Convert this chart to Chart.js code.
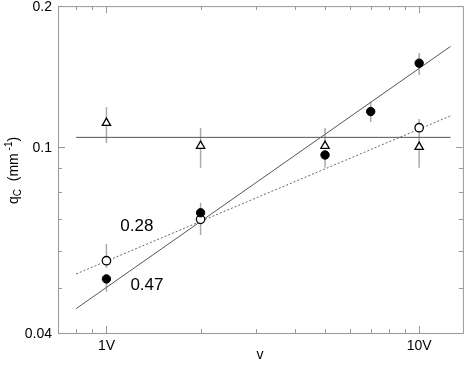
<!DOCTYPE html>
<html>
<head>
<meta charset="utf-8">
<script src="https://cdn.jsdelivr.net/npm/chart.js@4.4.1/dist/chart.umd.min.js"></script>
<style>
  html, body { margin: 0; padding: 0; background: #fff; }
  #wrap { width: 469px; height: 366px; }
</style>
</head>
<body>
<div id="wrap"><canvas id="qcChart" width="469" height="366"></canvas></div>
<script>
// tick values (log axes)
const xTickVals = [0.8, 0.9, 1, 2, 3, 4, 5, 6, 7, 8, 9, 10];
const xMajor = [1, 10];
const yTickVals = [0.04, 0.05, 0.06, 0.07, 0.08, 0.09, 0.1, 0.2];
const yMajor = [0.04, 0.1, 0.2];

// open triangles
const vTri = [1, 2, 5, 10];
const qTri = [0.1125, 0.1005, 0.1005, 0.100];
const triLo = [0.1019, 0.0902, 0.1005, 0.0902];
const triHi = [0.1216, 0.1097, 0.1097, 0.1048];

// filled circles
const vFilled = [1, 2, 5, 7, 10];
const qFilled = [0.0522, 0.0723, 0.0961, 0.119, 0.151];
const filledLo = [0.0490, 0.0723, 0.0902, 0.113, 0.1424];
const filledHi = [0.0522, 0.0759, 0.0961, 0.125, 0.1588];

// open circles
const vOpen = [1, 2, 10];
const qOpen = [0.0571, 0.070, 0.1099];
const openLo = [0.0551, 0.0648, 0.1048];
const openHi = [0.0620, 0.0700, 0.1147];

// fitted lines (end points)
const fitX = [0.8, 12.6];
const fitSteep = [0.0451, 0.164];
const fitShallow = [0.0535, 0.1165];
const fitFlat = [0.1048, 0.1048];

// slope labels
const notes = [
  { text: '0.28', x: 1.108, y: 0.0661 },
  { text: '0.47', x: 1.193, y: 0.0494 }
];

const FONT = '"Liberation Sans", Arial, Helvetica, sans-serif';

function pts(xs, ys) {
  return xs.map((x, i) => ({ x: x, y: ys[i] }));
}

const errorBars = [
  { xs: vTri, lo: triLo, hi: triHi },
  { xs: vFilled, lo: filledLo, hi: filledHi },
  { xs: vOpen, lo: openLo, hi: openHi }
];

// error bars under the markers
const errorPlugin = {
  id: 'errorBars',
  beforeDatasetsDraw(chart) {
    const ctx = chart.ctx;
    const xs = chart.scales.x, ys = chart.scales.y;
    ctx.save();
    ctx.strokeStyle = '#aaaaaa';
    ctx.lineWidth = 1.5;
    errorBars.forEach(set => {
      set.xs.forEach((v, i) => {
        const px = xs.getPixelForValue(v);
        ctx.beginPath();
        ctx.moveTo(px, ys.getPixelForValue(set.lo[i]));
        ctx.lineTo(px, ys.getPixelForValue(set.hi[i]));
        ctx.stroke();
      });
    });
    ctx.restore();
  }
};

// box, inward ticks, tick labels, titles, notes
const framePlugin = {
  id: 'frame',
  afterDatasetsDraw(chart) {
    const ctx = chart.ctx;
    const a = chart.chartArea;
    const xs = chart.scales.x, ys = chart.scales.y;
    ctx.save();
    ctx.strokeStyle = '#999999';
    ctx.lineWidth = 1;
    ctx.strokeRect(a.left + 0.5, a.top + 0.5, a.right - a.left, a.bottom - a.top);

    ctx.beginPath();
    xTickVals.forEach(v => {
      const px = Math.round(xs.getPixelForValue(v)) + 0.5;
      const len = xMajor.includes(v) ? 7 : 4;
      ctx.moveTo(px, a.bottom); ctx.lineTo(px, a.bottom - len);
      ctx.moveTo(px, a.top); ctx.lineTo(px, a.top + len);
    });
    yTickVals.forEach(v => {
      const py = Math.round(ys.getPixelForValue(v)) + 0.5;
      const len = yMajor.includes(v) ? 7 : 4;
      ctx.moveTo(a.left, py); ctx.lineTo(a.left + len, py);
      ctx.moveTo(a.right, py); ctx.lineTo(a.right - len, py);
    });
    ctx.stroke();

    ctx.fillStyle = '#000';
    ctx.font = '14px ' + FONT;
    ctx.textBaseline = 'middle';
    ctx.textAlign = 'center';
    xMajor.forEach(v => {
      ctx.fillText(v + 'V', xs.getPixelForValue(v), a.bottom + 13);
    });
    ctx.textAlign = 'right';
    yMajor.forEach(v => {
      ctx.fillText(String(v), a.left - 6, ys.getPixelForValue(v) + 1);
    });

    ctx.font = '17px ' + FONT;
    ctx.textAlign = 'left';
    ctx.textBaseline = 'alphabetic';
    notes.forEach(n => {
      ctx.fillText(n.text, xs.getPixelForValue(n.x), ys.getPixelForValue(n.y));
    });

    // x title
    ctx.font = '14px ' + FONT;
    ctx.textAlign = 'center';
    ctx.textBaseline = 'middle';
    ctx.fillText('v', 260, 355);

    // y title, rotated
    ctx.translate(18, 204);
    ctx.rotate(-Math.PI / 2);
    ctx.textAlign = 'left';
    ctx.textBaseline = 'alphabetic';
    let x = 0;
    ctx.font = '14px ' + FONT;
    ctx.fillText('q', x, 0); x += ctx.measureText('q').width;
    ctx.font = '10px ' + FONT;
    ctx.fillText('C', x, 3); x += ctx.measureText('C').width;
    ctx.font = '14px ' + FONT;
    ctx.fillText('  (mm', x, 0); x += ctx.measureText('  (mm').width;
    ctx.font = '10px ' + FONT;
    ctx.fillText(' -1', x, -6); x += ctx.measureText(' -1').width;
    ctx.font = '14px ' + FONT;
    ctx.fillText(')', x, 0);
    ctx.restore();
  }
};

new Chart(document.getElementById('qcChart'), {
  type: 'scatter',
  data: {
    datasets: [
      {
        label: 'triangles',
        data: pts(vTri, qTri),
        pointStyle: 'triangle',
        pointRadius: 4.8,
        backgroundColor: '#ffffff',
        borderColor: '#000000',
        borderWidth: 1.3
      },
      {
        label: 'filled',
        data: pts(vFilled, qFilled),
        pointStyle: 'circle',
        pointRadius: 4.2,
        backgroundColor: '#000000',
        borderColor: '#000000',
        borderWidth: 1
      },
      {
        label: 'open',
        data: pts(vOpen, qOpen),
        pointStyle: 'circle',
        pointRadius: 4.2,
        backgroundColor: '#ffffff',
        borderColor: '#000000',
        borderWidth: 1.3
      },
      {
        type: 'line',
        label: 'fit 0.47',
        data: pts(fitX, fitSteep),
        borderColor: '#555555',
        borderWidth: 1,
        pointRadius: 0,
        fill: false
      },
      {
        type: 'line',
        label: 'fit 0.28',
        data: pts(fitX, fitShallow),
        borderColor: '#666666',
        borderWidth: 1,
        borderDash: [2, 2],
        pointRadius: 0,
        fill: false
      },
      {
        type: 'line',
        label: 'flat',
        data: pts(fitX, fitFlat),
        borderColor: '#555555',
        borderWidth: 1,
        pointRadius: 0,
        fill: false
      }
    ]
  },
  options: {
    responsive: false,
    animation: false,
    layout: { padding: { top: 6, right: 4, left: 0, bottom: 0 } },
    plugins: {
      legend: { display: false },
      tooltip: { enabled: false }
    },
    scales: {
      x: {
        type: 'logarithmic',
        min: 0.7,
        max: 13.8,
        grid: { display: false },
        border: { display: false },
        ticks: { display: false },
        afterFit: s => { s.height = 33; }
      },
      y: {
        type: 'logarithmic',
        min: 0.04,
        max: 0.2,
        grid: { display: false },
        border: { display: false },
        ticks: { display: false },
        afterFit: s => { s.width = 58; }
      }
    }
  },
  plugins: [errorPlugin, framePlugin]
});
</script>
</body>
</html>
